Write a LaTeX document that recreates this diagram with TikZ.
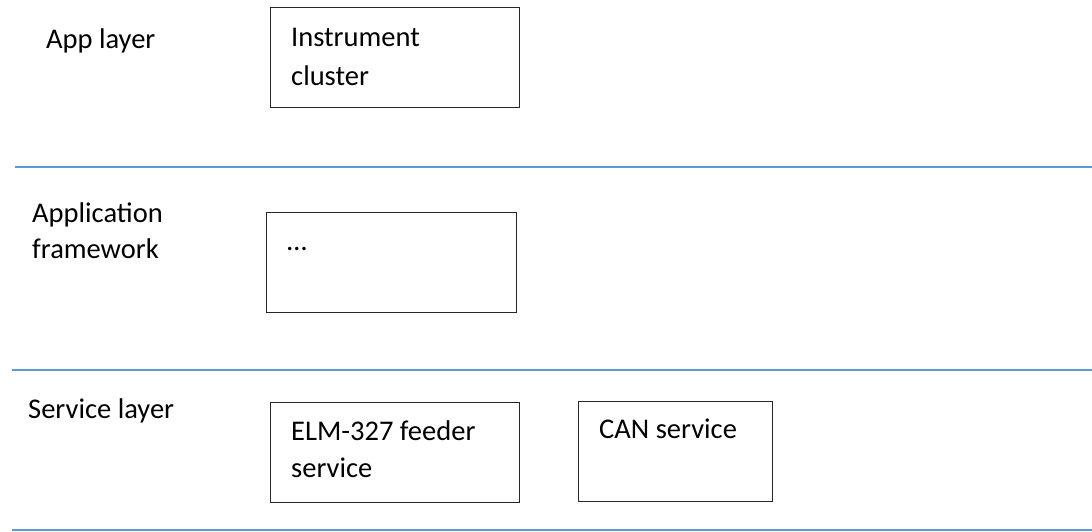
\documentclass[tikz,border=0pt]{standalone}
\usepackage{fontspec}
\setmainfont{Carlito}
\definecolor{layerblue}{HTML}{5B9BD5}
\begin{document}
\begin{tikzpicture}[x=1pt,y=-1pt,
  sep/.style={draw=layerblue,line width=2pt},
  compbox/.style={draw=black!85,line width=1.3pt,rectangle,inner sep=0pt,anchor=north west},
  txt/.style={anchor=base west,inner sep=0pt,font=\fontsize{28.5}{38}\selectfont}]
\useasboundingbox (0,0) rectangle (1092,531);
% separators
\coordinate (l1a) at (15,167);  \coordinate (l1b) at (1092,167);
\coordinate (l2a) at (12,370);  \coordinate (l2b) at (1092,370);
\coordinate (l3a) at (12,530);  \coordinate (l3b) at (1092,530);
\draw[sep] (l1a) -- (l1b);
\draw[sep] (l2a) -- (l2b);
\draw[sep] (l3a) -- (l3b);
% layer labels
\node[txt] (applayer) at (46,48) {App layer};
\node[txt] (fw1) at (32,222) {Application};
\node[txt] (fw2) at (32,258) {framework};
\node[txt] (svc) at (28,418) {Service layer};
% boxes
\node[compbox,minimum width=249pt,minimum height=100pt] (ic) at (270,7) {};
\node[compbox,minimum width=250pt,minimum height=100pt] (af) at (266,212) {};
\node[compbox,minimum width=249pt,minimum height=100pt] (elm) at (270,402) {};
\node[compbox,minimum width=194pt,minimum height=100pt] (can) at (578,401) {};
% box texts
\node[txt] (ic1) at (291,46) {Instrument};
\node[txt] (ic2) at (291,85) {cluster};
\node[txt] (dots) at (287,250) {…};
\node[txt] (elm1) at (291,440) {ELM-327 feeder};
\node[txt] (elm2) at (291,477) {service};
\node[txt] (can1) at (599,438) {CAN service};
\end{tikzpicture}
\end{document}
